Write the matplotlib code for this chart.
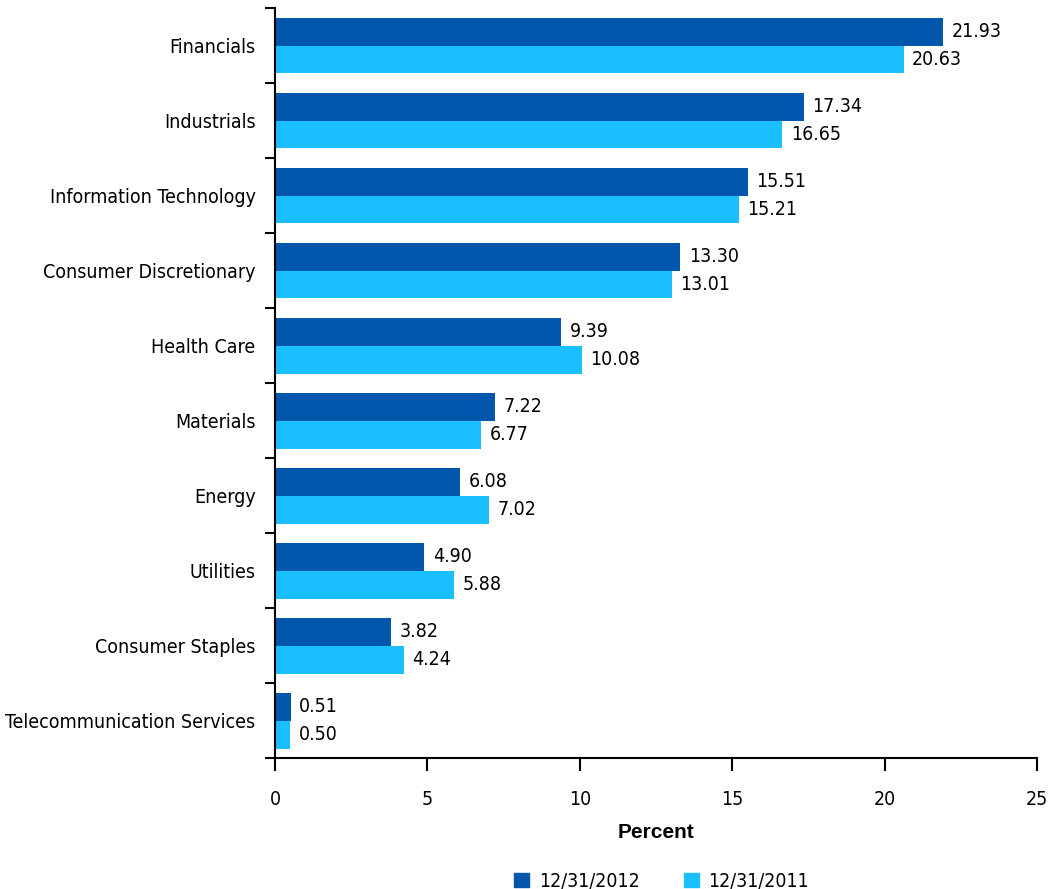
import numpy as np
import matplotlib.pyplot as plt
from matplotlib.patches import Patch

categories = ["Financials", "Industrials", "Information Technology",
              "Consumer Discretionary", "Health Care", "Materials", "Energy",
              "Utilities", "Consumer Staples", "Telecommunication Services"]
values_2012 = [21.93, 17.34, 15.51, 13.30, 9.39, 7.22, 6.08, 4.90, 3.82, 0.51]
values_2011 = [20.63, 16.65, 15.21, 13.01, 10.08, 6.77, 7.02, 5.88, 4.24, 0.50]
series_names = ["12/31/2012", "12/31/2011"]

dark = "#0256AC"
light = "#19BFFF"

plt.rcParams["font.family"] = ["DejaVu Sans"]
plt.rcParams["font.stretch"] = "condensed"
plt.rcParams["font.size"] = 14

fig = plt.figure(figsize=(10.59, 8.89), dpi=100)
ax = fig.add_axes([0.2597, 0.1473, 0.7195, 0.8437])

n = len(categories)
y = np.arange(n)
h = 0.373
b1 = ax.barh(y - h / 2, values_2012, height=h, color=dark, label=series_names[0])
b2 = ax.barh(y + h / 2, values_2011, height=h, color=light, label=series_names[1])

for bars, vals in ((b1, values_2012), (b2, values_2011)):
	for bar, v in zip(bars, vals):
		ax.annotate(f"{v:.2f}", (v, bar.get_y() + bar.get_height() / 2),
					xytext=(6, 0), textcoords="offset points",
					va="center", ha="left")

ax.set_ylim(n - 0.5, -0.5)
ax.set_xlim(0, 25)
ax.set_xticks([0, 5, 10, 15, 20, 25])
ax.set_yticks(np.arange(n + 1) - 0.5)
ax.set_yticklabels([])
ax.set_yticks(y, minor=True)
ax.set_yticklabels(categories, minor=True)
ax.tick_params(axis="y", which="major", length=7, width=1.5, direction="out")
ax.tick_params(axis="y", which="minor", length=0, pad=14)
ax.tick_params(axis="x", length=9, width=1.5, direction="out", pad=14)

for s in ("top", "right"):
	ax.spines[s].set_visible(False)
for s in ("left", "bottom"):
	ax.spines[s].set_linewidth(1.5)

ax.set_xlabel("Percent", fontsize=15, fontweight="bold", fontstretch="normal",
			  family=["Liberation Sans", "DejaVu Sans"], labelpad=10)

handles = [Patch(color=dark), Patch(color=light)]
fig.legend(handles, series_names, loc="lower center", ncol=2, frameon=False,
		   bbox_to_anchor=(0.625, -0.022), handlelength=0.75, handleheight=0.75,
		   columnspacing=2.3, handletextpad=0.5)

fig.savefig("out.png", dpi=100)
